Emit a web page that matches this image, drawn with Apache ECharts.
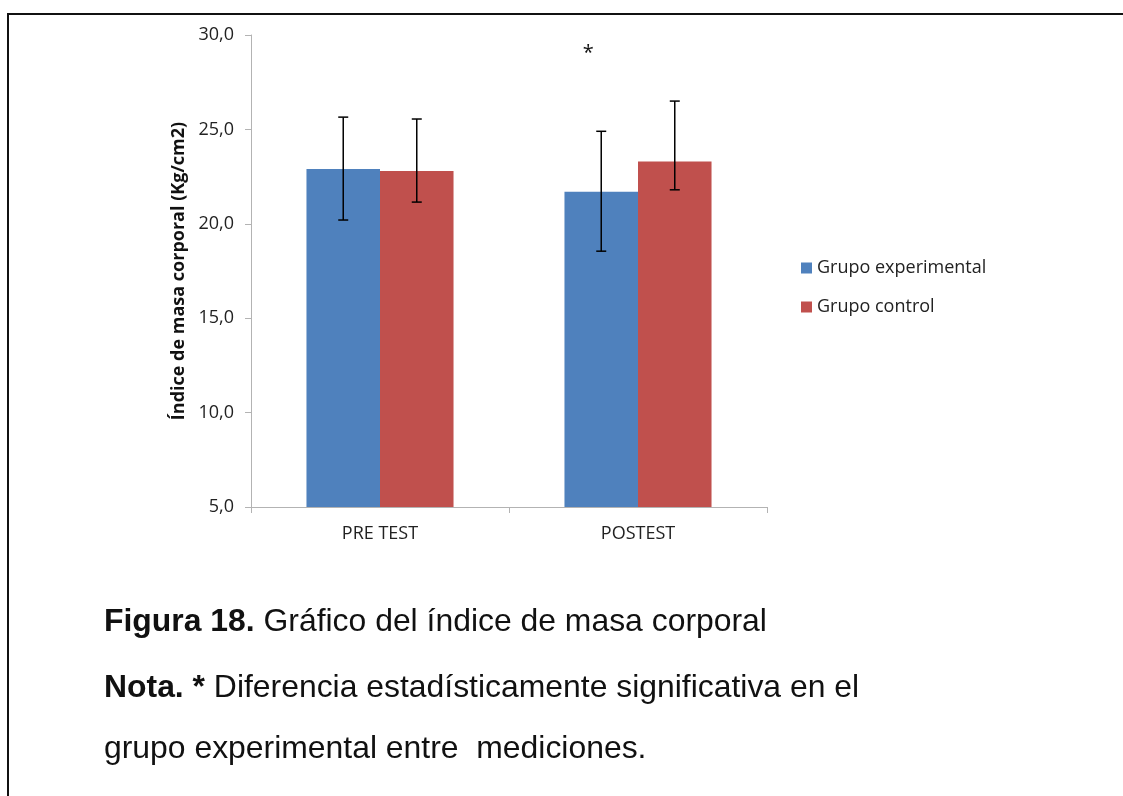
<!DOCTYPE html>
<html><head><meta charset="utf-8">
<script src="https://cdn.jsdelivr.net/npm/echarts@6/dist/echarts.min.js"></script>
<style>
html,body{margin:0;padding:0;background:#fff;}
#wrap{position:relative;width:1123px;height:796px;overflow:hidden;}
#frame{position:absolute;left:7px;top:13px;width:1200px;height:900px;border-left:2px solid #111;border-top:2px solid #111;}
#chart{position:absolute;left:0;top:0;width:1123px;height:796px;}
.cap{position:absolute;left:104px;font-family:"Liberation Sans",Arial,sans-serif;font-size:31.9px;color:#111;white-space:pre;line-height:36px;}
</style></head>
<body><div id="wrap"><div id="frame"></div><div id="chart"></div>
<div class="cap" style="top:602px"><b>Figura 18.</b> Gráfico del índice de masa corporal</div>
<div class="cap" style="top:668px"><b>Nota. *</b> Diferencia estadísticamente significativa en el</div>
<div class="cap" style="top:729px">grupo experimental entre  mediciones.</div>
</div>
<script>
const categories = ['PRE TEST', 'POSTEST'];
const seriesNames = ['Grupo experimental', 'Grupo control'];
const expValues = [22.9, 21.7];
const ctrlValues = [22.8, 23.3];
const expErrUp = [2.75, 3.2];
const expErrDown = [2.7, 3.15];
const ctrlErrUp = [2.75, 3.2];
const ctrlErrDown = [1.65, 1.5];
const yTicks = [5, 10, 15, 20, 25, 30];
const starValue = 29.05;

const colors = ['#4F81BD', '#C0504D'];
const fontAxis = '"Open Sans", "Noto Sans", sans-serif';

function errorSeries(values, up, down, idx) {
  return {
    type: 'custom',
    name: 'err' + idx,
    z: 10,
    data: values.map((v, i) => [i, v + up[i], v - down[i]]),
    renderItem: function (params, api) {
      const ci = api.value(0);
      const top = api.coord([ci, api.value(1)]);
      const bot = api.coord([ci, api.value(2)]);
      const bw = api.size([1, 0])[0];
      const barW = bw * 0.57 / 2;
      const x = top[0] + (idx === 0 ? -barW / 2 : barW / 2);
      const cap = 5;
      const st = { stroke: '#000', lineWidth: 1.5 };
      return { type: 'group', children: [
        { type: 'line', shape: { x1: x, y1: top[1], x2: x, y2: bot[1] }, style: st },
        { type: 'line', shape: { x1: x - cap, y1: top[1], x2: x + cap, y2: top[1] }, style: st },
        { type: 'line', shape: { x1: x - cap, y1: bot[1], x2: x + cap, y2: bot[1] }, style: st }
      ]};
    }
  };
}

const chart = echarts.init(document.getElementById('chart'));
chart.setOption({
  animation: false,
  backgroundColor: 'transparent',
  grid: { left: 251, right: 356, top: 35, bottom: 289 },
  legend: {
    data: seriesNames, orient: 'vertical', left: 796, top: 254,
    itemWidth: 11, itemHeight: 11, itemGap: 21, icon: 'rect',
    textStyle: { fontFamily: fontAxis, fontSize: 18, color: '#222' }
  },
  xAxis: {
    type: 'category', data: categories,
    axisLine: { lineStyle: { color: '#B3B3B3', width: 1 } },
    axisTick: { show: true, length: 6, lineStyle: { color: '#B3B3B3' } },
    axisLabel: { fontFamily: fontAxis, fontSize: 18, color: '#222', margin: 18 }
  },
  yAxis: {
    type: 'value', min: 5, max: 30, interval: 5,
    name: 'Índice de masa corporal (Kg/cm2)', nameLocation: 'middle', nameGap: 63,
    nameTextStyle: { fontFamily: fontAxis, fontSize: 18, fontWeight: 'bold', color: '#111' },
    axisLine: { show: true, lineStyle: { color: '#B3B3B3', width: 1 } },
    axisTick: { show: true, length: 6, lineStyle: { color: '#B3B3B3' } },
    splitLine: { show: false },
    axisLabel: { fontFamily: fontAxis, fontSize: 18, color: '#222', margin: 17,
      formatter: v => yTicks.includes(v) ? v.toFixed(1).replace('.', ',') : '' }
  },
  series: [
    { type: 'bar', name: seriesNames[0], data: expValues, barGap: '0%', barCategoryGap: '43%',
      itemStyle: { color: colors[0] },
      markPoint: { symbol: 'circle', symbolSize: 0,
        data: [{ coord: [1, starValue] }],
        label: { show: true, formatter: '*', offset: [-13, 0], fontSize: 20, color: '#111', fontFamily: fontAxis } } },
    { type: 'bar', name: seriesNames[1], data: ctrlValues, itemStyle: { color: colors[1] } },
    errorSeries(expValues, expErrUp, expErrDown, 0),
    errorSeries(ctrlValues, ctrlErrUp, ctrlErrDown, 1)
  ]
});
</script></body></html>
